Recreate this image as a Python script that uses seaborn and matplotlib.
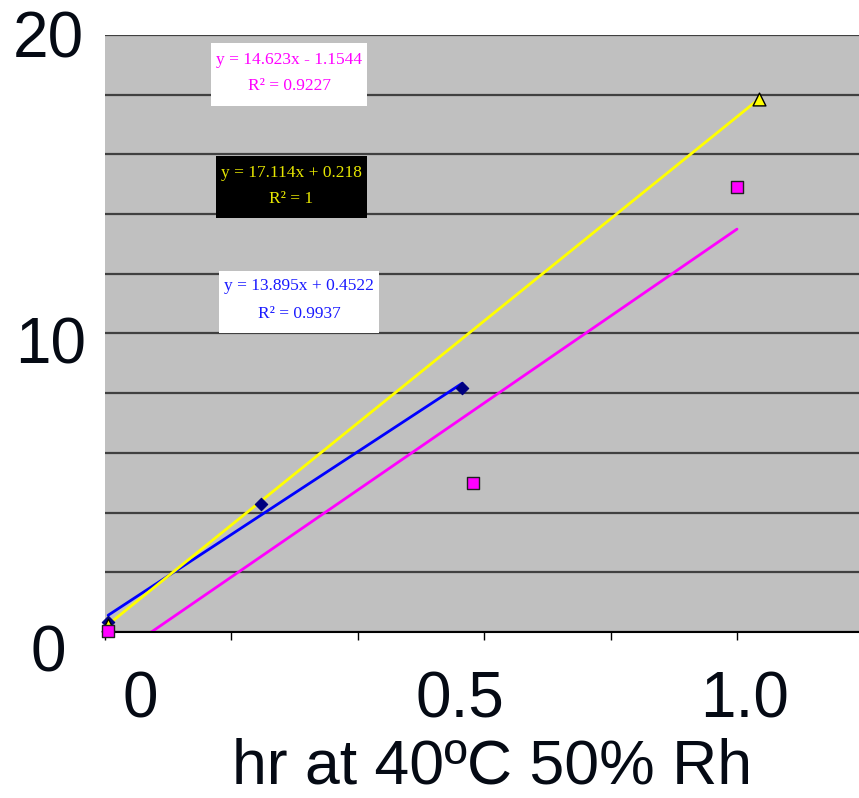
import numpy as np
import pandas as pd
import seaborn as sns
import matplotlib.pyplot as plt
from matplotlib.patches import Rectangle

# ---- data ----
blue_x = [0.005, 0.247, 0.565]
blue_y = [0.35, 4.29, 8.17]
pink_x = [0.005, 0.582, 1.0]
pink_y = [0.02, 4.99, 14.9]
yellow_x = [0.005, 1.035]
yellow_y = [0.25, 17.86]

x_tick_labels = ['0', '0.5', '1.0']
y_tick_labels = ['20', '10', '0']
x_label = 'hr at 40ºC 50% Rh'
eq_pink = ['y = 14.623x - 1.1544', 'R² = 0.9227']
eq_yellow = ['y = 17.114x + 0.218', 'R² = 1']
eq_blue = ['y = 13.895x + 0.4522', 'R² = 0.9937']

sns.set_style('white', {'axes.facecolor': '#C0C0C0'})
plt.rcParams['font.family'] = ['Liberation Sans', 'DejaVu Sans']

W, H = 859, 798
fig = plt.figure(figsize=(W / 100, H / 100), dpi=100)
ax = fig.add_axes([105 / W, 1 - 632 / H, (W - 105) / W, (632 - 35) / H])
ax.set_xlim(0, (W - 105) / 632)
ax.set_ylim(0, 20)

# grid & ticks
ax.set_yticks(np.arange(0, 21, 2))
ax.set_yticklabels([])
ax.yaxis.grid(True, color='#404040', lw=1.6)
ax.xaxis.grid(False)
ax.set_axisbelow(True)
ax.set_xticks(np.arange(0, 1.01, 0.2))
ax.set_xticklabels([])
ax.tick_params(axis='x', bottom=True, direction='out', length=6, width=1, color='black')
ax.tick_params(axis='y', left=False, length=0)
for s in ['top', 'right', 'left']:
    ax.spines[s].set_visible(False)
ax.spines['bottom'].set_color('black')
ax.spines['bottom'].set_linewidth(1.5)
ax.set_xlabel('')
ax.set_ylabel('')

# trend lines
sns.regplot(x=blue_x, y=blue_y, ax=ax, scatter=False, ci=None, truncate=True,
            line_kws=dict(color='#0000FF', lw=2, zorder=2))
sns.regplot(x=pink_x, y=pink_y, ax=ax, scatter=False, ci=None, truncate=True,
            line_kws=dict(color='#FF00FF', lw=2, zorder=2))
sns.regplot(x=yellow_x, y=yellow_y, ax=ax, scatter=False, ci=None, truncate=True,
            line_kws=dict(color='#FFFF00', lw=2, zorder=2))
ax.set_xlim(0, (W - 105) / 632)
ax.set_ylim(0, 20)

# markers
sns.scatterplot(x=blue_x, y=blue_y, ax=ax, marker='D', s=40, color='#000080',
                edgecolor='#000080', linewidth=0.8, zorder=3, clip_on=False)
sns.scatterplot(x=yellow_x, y=yellow_y, ax=ax, marker='^', s=85, color='#FFFF00',
                edgecolor='black', linewidth=1, zorder=4, clip_on=False)
sns.scatterplot(x=pink_x, y=pink_y, ax=ax, marker='s', s=68, color='#FF00FF',
                edgecolor='#202020', linewidth=1, zorder=5, clip_on=False)
ax.set_xlabel('')
ax.set_ylabel('')


def fx(px):
    return px / W


def fy(py):
    return 1 - py / H


# axis labels as overlay text
big = 46
ylab_pos = [(48, 57), (51, 363), (48, 671)]
for lab, (px, py) in zip(y_tick_labels, ylab_pos):
    fig.text(fx(px), fy(py), lab, fontsize=big, ha='center', va='baseline', color='#050a14')
xlab_pos = [(140, 718), (460, 717), (745, 717)]
for lab, (px, py) in zip(x_tick_labels, xlab_pos):
    fig.text(fx(px), fy(py), lab, fontsize=big, ha='center', va='baseline', color='#050a14')
fig.text(fx(492), fy(784), x_label, fontsize=45, ha='center', va='baseline', color='#050a14')


# equation boxes
def eq_box(x0, y0, x1, y1, face, tcolor, lines, centers):
    fig.add_artist(Rectangle((fx(x0), fy(y1)), (x1 - x0) / W, (y1 - y0) / H,
                             transform=fig.transFigure, facecolor=face,
                             edgecolor='none', zorder=10))
    cx = (x0 + x1) / 2
    for t, cy in zip(lines, centers):
        fig.text(fx(cx), fy(cy), t, fontsize=12.5, ha='center', va='center',
                 color=tcolor, family=['Liberation Serif', 'DejaVu Serif'], zorder=11)


eq_box(211, 43, 367, 106, 'white', '#FF00FF', eq_pink, [60, 86])
eq_box(216, 156, 367, 218, 'black', '#E6E600', eq_yellow, [173, 199])
eq_box(219, 271, 379, 333, 'white', '#1a1aff', eq_blue, [286, 314])

fig.savefig('out.png', dpi=100)
